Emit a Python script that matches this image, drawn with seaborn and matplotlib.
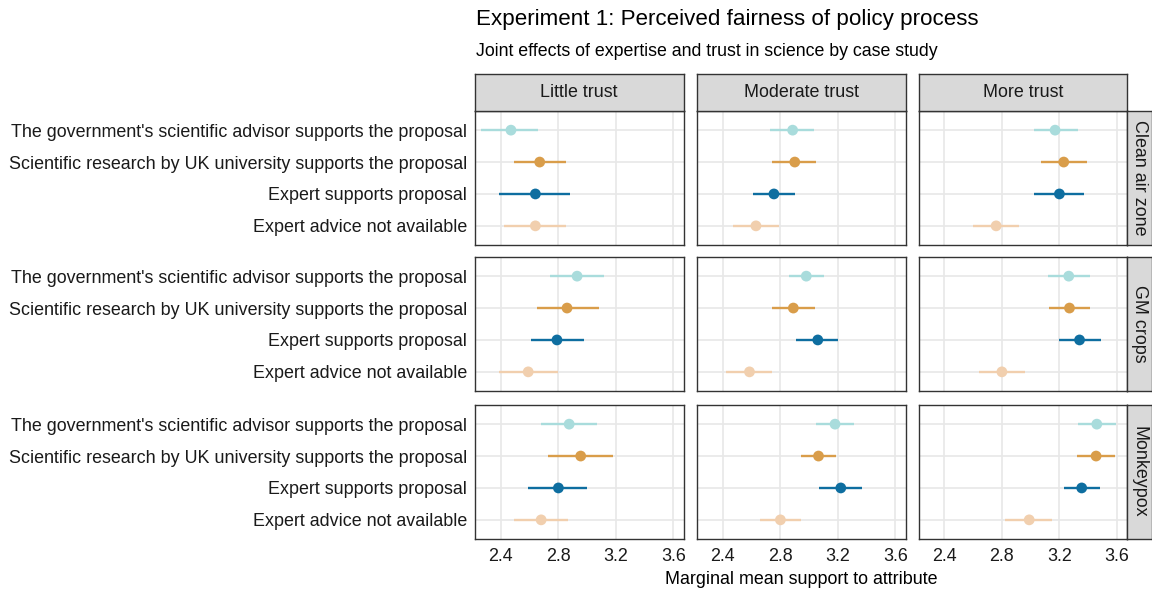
import numpy as np
import pandas as pd
import matplotlib
matplotlib.use("Agg")
import matplotlib.pyplot as plt
import seaborn as sns

sns.set_style("white")
plt.rcParams['font.family'] = ['Liberation Sans', 'DejaVu Sans']

attributes = [
    "The government's scientific advisor supports the proposal",
    "Scientific research by UK university supports the proposal",
    "Expert supports proposal",
    "Expert advice not available",
]
trust_levels = ["Little trust", "Moderate trust", "More trust"]
cases = ["Clean air zone", "GM crops", "Monkeypox"]
colors = ["#a9dcdc", "#d99d4a", "#0e6ea0", "#f1cfae"]

# estimates [case][trust][attribute]
est = [
    [[2.47, 2.67, 2.64, 2.64], [2.885, 2.90, 2.755, 2.63], [3.17, 3.23, 3.20, 2.76]],
    [[2.93, 2.86, 2.79, 2.59], [2.98, 2.89, 3.06, 2.585], [3.265, 3.27, 3.34, 2.80]],
    [[2.875, 2.955, 2.80, 2.68], [3.18, 3.065, 3.22, 2.80], [3.46, 3.455, 3.355, 2.99]],
]
lower = [
    [[2.26, 2.49, 2.39, 2.42], [2.73, 2.745, 2.61, 2.47], [3.02, 3.07, 3.02, 2.60]],
    [[2.74, 2.65, 2.61, 2.39], [2.86, 2.74, 2.91, 2.42], [3.12, 3.13, 3.20, 2.64]],
    [[2.68, 2.73, 2.59, 2.49], [3.05, 2.94, 3.07, 2.66], [3.33, 3.32, 3.23, 2.82]],
]
upper = [
    [[2.66, 2.85, 2.88, 2.85], [3.035, 3.045, 2.90, 2.79], [3.33, 3.39, 3.37, 2.92]],
    [[3.12, 3.08, 2.98, 2.80], [3.10, 3.04, 3.20, 2.74], [3.41, 3.41, 3.49, 2.96]],
    [[3.07, 3.18, 3.00, 2.865], [3.31, 3.19, 3.37, 2.94], [3.595, 3.59, 3.48, 3.15]],
]
xticks = [2.4, 2.8, 3.2, 3.6]

rows = []
for ci, case in enumerate(cases):
    for ti, trust in enumerate(trust_levels):
        for ai, att in enumerate(attributes):
            rows.append(dict(case=case, trust=trust, attribute=att,
                             pos=len(attributes) - 1 - ai,
                             estimate=est[ci][ti][ai], lower=lower[ci][ti][ai],
                             upper=upper[ci][ti][ai]))
df = pd.DataFrame(rows)

W, H = 1152, 594
fig = plt.figure(figsize=(W / 100, H / 100), dpi=100)

col_x = [475, 697, 918.5]
pw = 208.5
row_y = [111, 257, 405]
ph = 134
strip_top_h = 37
strip_right_w = 25
edge = "#333333"
palette = dict(zip(attributes, colors))
FS = 12.9

for ri, case in enumerate(cases):
    for ci, trust in enumerate(trust_levels):
        x0, y0 = col_x[ci], row_y[ri]
        ax = fig.add_axes([x0 / W, 1 - (y0 + ph) / H, pw / W, ph / H])
        sub = df[(df.case == case) & (df.trust == trust)]
        ax.set_xlim(2.22, 3.67)
        ax.set_ylim(-0.6, 3.6)
        ax.set_xticks(xticks)
        ax.set_yticks(list(range(len(attributes))))
        ax.set_yticklabels(attributes[::-1])
        ax.grid(True, color="#e8e8e8", linewidth=1.2)
        ax.set_axisbelow(True)
        for _, r in sub.iterrows():
            ax.hlines(r.pos, r.lower, r.upper, color=palette[r.attribute],
                      linewidth=1.7, zorder=2)
        sns.scatterplot(data=sub, x="estimate", y="pos", hue="attribute",
                        palette=palette, s=60, edgecolor="none", legend=False,
                        ax=ax, zorder=3)
        ax.set_xlabel("")
        ax.set_ylabel("")
        for sp in ax.spines.values():
            sp.set_color(edge)
            sp.set_linewidth(1.0)
        ax.tick_params(axis="both", length=3.5, width=0.8, color=edge,
                       labelsize=FS, labelcolor="#1a1a1a", pad=2)
        if ri < 2:
            ax.tick_params(axis="x", labelbottom=False, length=0)
        else:
            ax.tick_params(axis="x", labelsize=FS, pad=3, colors="#333333")
            ax.set_xticklabels([f"{v:.1f}" for v in xticks], color="#1a1a1a")
        if ci > 0:
            ax.tick_params(axis="y", labelleft=False, length=0)
        # top strips
        if ri == 0:
            sax = fig.add_axes([x0 / W, 1 - y0 / H, pw / W, strip_top_h / H])
            sax.set_xticks([]); sax.set_yticks([])
            sax.set_facecolor("#d9d9d9")
            for sp in sax.spines.values():
                sp.set_color(edge); sp.set_linewidth(1.0)
            sax.text(0.5, 0.5, trust, ha="center", va="center",
                     fontsize=FS, color="#1a1a1a", transform=sax.transAxes)
        if ci == 2:
            rax = fig.add_axes([(x0 + pw) / W, 1 - (y0 + ph) / H,
                                strip_right_w / W, ph / H])
            rax.set_xticks([]); rax.set_yticks([])
            rax.set_facecolor("#d9d9d9")
            for sp in rax.spines.values():
                sp.set_color(edge); sp.set_linewidth(1.0)
            rax.text(0.5, 0.5, case, ha="center", va="center", rotation=-90,
                     fontsize=FS, color="#1a1a1a", transform=rax.transAxes)

fig.text(476 / W, 1 - 20 / H, "Experiment 1: Perceived fairness of policy process",
         fontsize=16.1, ha="left", va="center", color="#000000")
fig.text(476 / W, 1 - 51 / H, "Joint effects of expertise and trust in science by case study",
         fontsize=12.8, ha="left", va="center", color="#000000")
fig.text((475 + 1127) / 2 / W, 1 - 580 / H, "Marginal mean support to attribute",
         fontsize=FS, ha="center", va="center", color="#000000")

fig.savefig("out.png", dpi=100)
